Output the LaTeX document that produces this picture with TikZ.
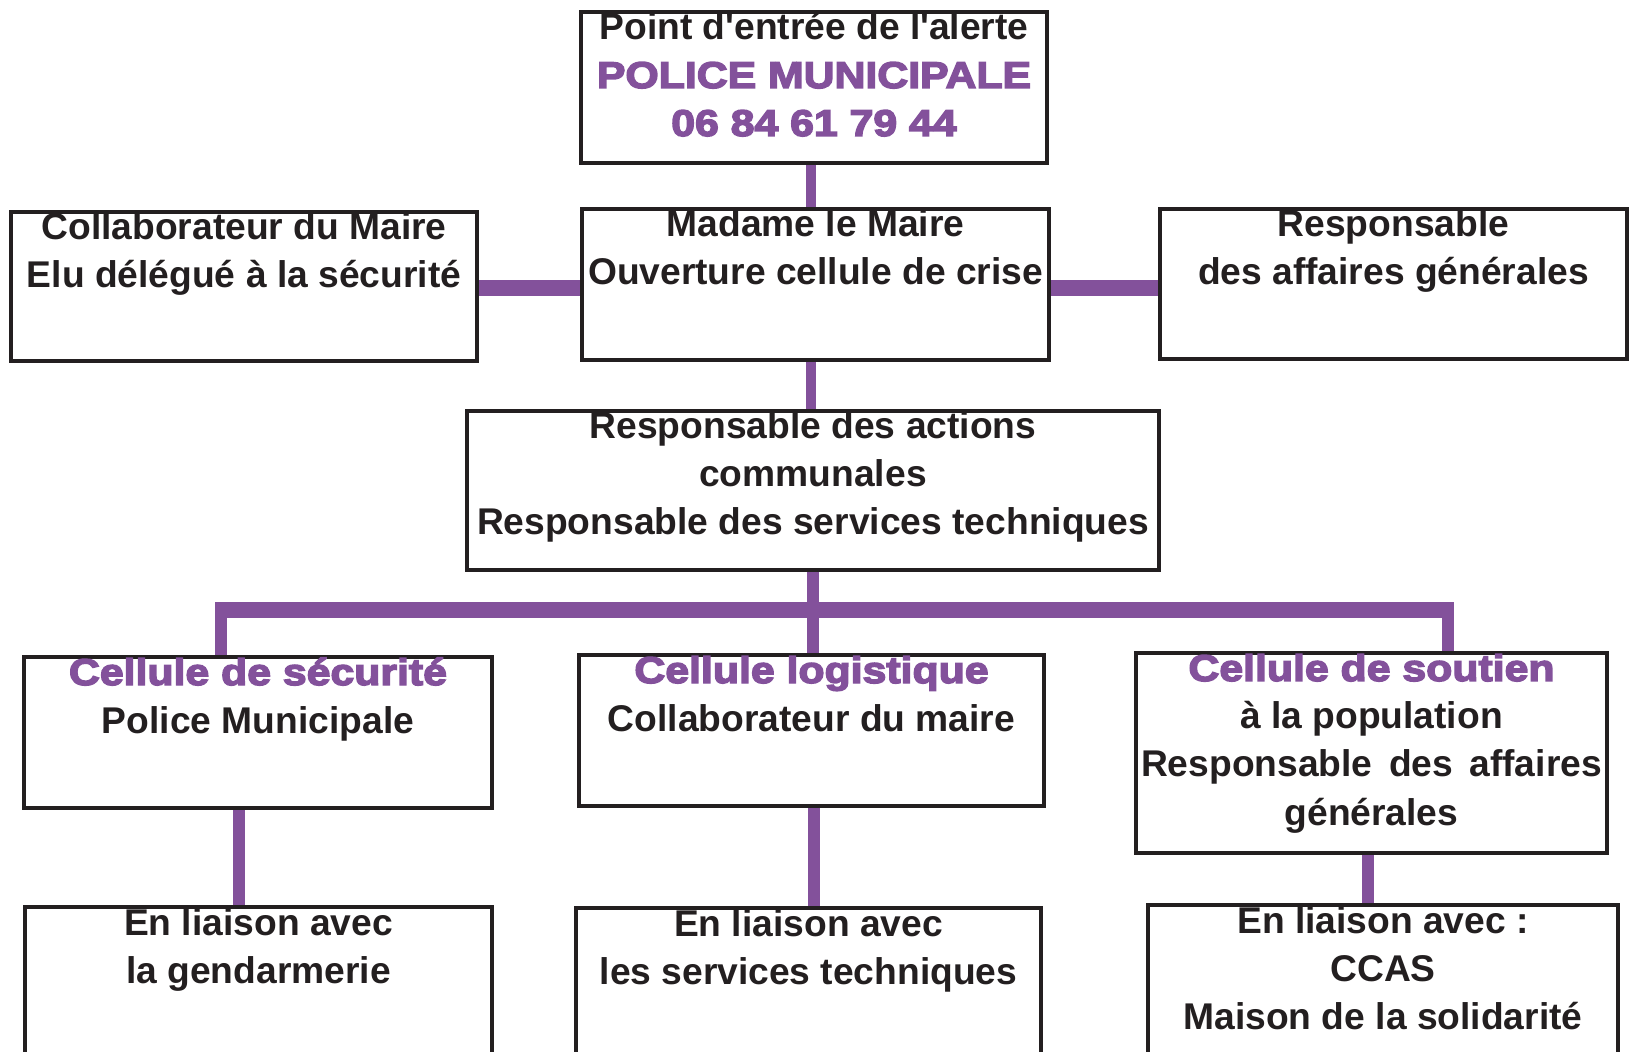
\documentclass[tikz,border=0pt]{standalone}
\usepackage{fontspec}
\setmainfont{Liberation Sans}[Ligatures=TeXOff,BoldFont={Liberation Sans Bold}]
\newfontfamily\heavyfont{Liberation Sans Bold}[Ligatures=TeXOff,FakeBold=4,FakeStretch=1.15]
\usetikzlibrary{backgrounds}
\definecolor{mauve}{HTML}{83519B}
\definecolor{ink}{HTML}{231F20}
\newdimen\upx \upx=0.5pt
\newcommand\boxtext[3]{\begin{minipage}[t][#2\upx][t]{#1\upx}\centering\fontsize{18.6pt}{24pt}\selectfont\bfseries\lineskiplimit=-100pt\rule{0pt}{14pt}#3\end{minipage}}
\newcommand\hv[1]{{\heavyfont\color{mauve}#1}}
\tikzset{
  box/.style={draw=ink, line width=2pt, inner sep=0pt, outer sep=0pt, anchor=north west, text=ink},
  link/.style={draw=mauve, line width=6pt},
  linkthin/.style={draw=mauve, line width=5pt},
  linkh/.style={draw=mauve, line width=8pt}
}
\begin{document}
\begin{tikzpicture}[x=0.5pt,y=-0.5pt]
\useasboundingbox (0,0) rectangle (1637,1052);
\clip (0,0) rectangle (1637,1052);
\node[box] (alerte) at (581,12) {\boxtext{466}{151}{Point d'entrée de l'alerte\\\hv{POLICE MUNICIPALE}\\\hv{06 84 61 79 44}}};
\node[box] (maire) at (582,209) {\boxtext{467}{151}{Madame le Maire\\Ouverture cellule de crise}};
\node[box] (collab) at (11,212) {\boxtext{466}{149}{Collaborateur du Maire\\Elu délégué à la sécurité}};
\node[box] (resp) at (1160,209) {\boxtext{467}{150}{Responsable\\des affaires générales}};
\node[box] (actions) at (467,411) {\boxtext{692}{159}{Responsable des actions\\communales\\Responsable des services techniques}};
\node[box] (secu) at (24,657) {\boxtext{468}{151}{\hv{Cellule de sécurité}\\Police Municipale}};
\node[box] (logi) at (579,655) {\boxtext{465}{151}{\hv{Cellule logistique}\\Collaborateur du maire}};
\node[box] (soutien) at (1136,653) {\boxtext{471}{200}{\hv{Cellule de soutien}\\à la population\\Responsable\hspace{8.2pt}des\hspace{8.2pt}affaires\\générales}};
\node[box] (gend) at (25,907) {\boxtext{467}{200}{En liaison avec\\la gendarmerie}};
\node[box] (tech) at (576,908) {\boxtext{465}{200}{En liaison avec\\les services techniques}};
\node[box] (ccas) at (1148,905) {\boxtext{470}{200}{En liaison avec :\\CCAS\\Maison de la solidarité}};
\coordinate (yh) at (0,288);
\coordinate (busL) at (221,610);
\coordinate (busR) at (1448,610);
\coordinate (xa) at (811,0);
\coordinate (xb) at (813,0);
\coordinate (xg) at (239,0);
\coordinate (xt) at (814,0);
\coordinate (xc) at (1368,0);
\begin{pgfonlayer}{background}
\draw[linkthin] (alerte.south -| xa) -- (maire.north -| xa);
\draw[linkthin] (maire.south -| xa) -- (actions.north -| xa);
\draw[linkh] (collab.east |- yh) -- (maire.west |- yh);
\draw[linkh] (maire.east |- yh) -- (resp.west |- yh);
\draw[link] (actions.south -| xb) -- (logi.north -| xb);
\draw[link] ([yshift=-2pt]busL) -- (busL |- secu.north);
\draw[link] ([yshift=-2pt]busR) -- (busR |- soutien.north);
\draw[linkh] ([xshift=-3pt]busL) -- ([xshift=3pt]busR);
\draw[link] (secu.south -| xg) -- (gend.north -| xg);
\draw[link] (logi.south -| xt) -- (tech.north -| xt);
\draw[link] (soutien.south -| xc) -- (ccas.north -| xc);
\end{pgfonlayer}
\end{tikzpicture}
\end{document}
